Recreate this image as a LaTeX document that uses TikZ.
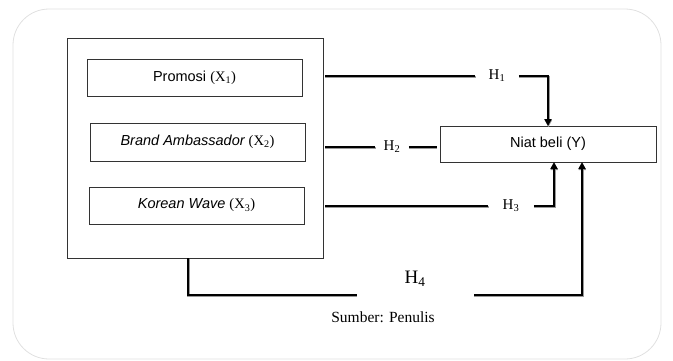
\documentclass[tikz,border=0pt]{standalone}
\usepackage{fontspec}
\setmainfont{Liberation Serif}
\setsansfont{Liberation Sans}
\usetikzlibrary{arrows.meta}
\tikzset{
  varbox/.style={draw=black!80, line width=0.9pt, inner sep=0pt, outer sep=0pt,
    minimum width=215pt, minimum height=37pt, font=\sffamily\fontsize{14.5}{16}\selectfont},
  hlab/.style={inner ysep=0pt, outer sep=0pt, font=\fontsize{15}{17}\selectfont},
  conn/.style={line width=2.4pt, black,
    preaction={draw=black!40, line width=2.4pt, transform canvas={shift={(0.4pt,-1.1pt)}}}},
  tip/.style={-{Triangle[length=7pt,width=7pt]}}
}
\begin{document}
\begin{tikzpicture}[x=1pt,y=-1pt]
\useasboundingbox (0,0) rectangle (673,360);
% outer frame
\draw[black!12, line width=0.8pt, rounded corners=36pt] (13,9) rectangle (661,359);

% variables
\node[draw=black!80, line width=1pt, inner sep=0pt, outer sep=0pt,
  minimum width=256pt, minimum height=220pt] (big) at (195,148) {};
\node[varbox] (promosi) at (194.5,77.5) {Promosi {\rmfamily(X\textsubscript{1})}};
\node[varbox, minimum height=38pt] (brand) at (197.5,142) {\itshape Brand Ambassador {\upshape\rmfamily(X\textsubscript{2})}};
\node[varbox] (korean) at (196.5,205.5) {\itshape Korean Wave {\upshape\rmfamily(X\textsubscript{3})}};
\node[varbox, minimum width=216pt, minimum height=36pt] (niat) at (548,144) {Niat beli (Y)};

% hipotesis
\node[hlab, inner xsep=13.5pt] (h1) at (497,76) {H\textsubscript{1}};
\node[hlab, inner xsep=8.5pt] (h2) at (392,147) {H\textsubscript{2}};
\node[hlab, inner xsep=14.5pt] (h3) at (511,206) {H\textsubscript{3}};
\node[hlab, font=\fontsize{19}{21}\selectfont] (h4) at (415,279) {H\textsubscript{4}};
\coordinate (h4l) at (357,295);
\coordinate (h4r) at (474,295);
\node[font=\fontsize{15.5}{17}\selectfont] (sumber) at (383,317) {Sumber: Penulis};

\draw[conn] ([xshift=2pt]big.east |- h1) -- (h1.west);
\draw[conn, tip] (h1.east) -| (niat.north);
\draw[conn] ([xshift=2pt]big.east |- h2) -- (h2.west);
\draw[conn, shorten >=3pt] (h2.east) -- (h2.east -| niat.west);
\draw[conn] ([xshift=2pt]big.east |- h3) -- (h3.west);
\draw[conn, tip] (h3.east) -| ([xshift=6pt]niat.south);
\draw[conn] ([xshift=-7pt]big.south) |- (h4l);
\draw[conn, tip] (h4r) -| ([xshift=34pt]niat.south);
\end{tikzpicture}
\end{document}
